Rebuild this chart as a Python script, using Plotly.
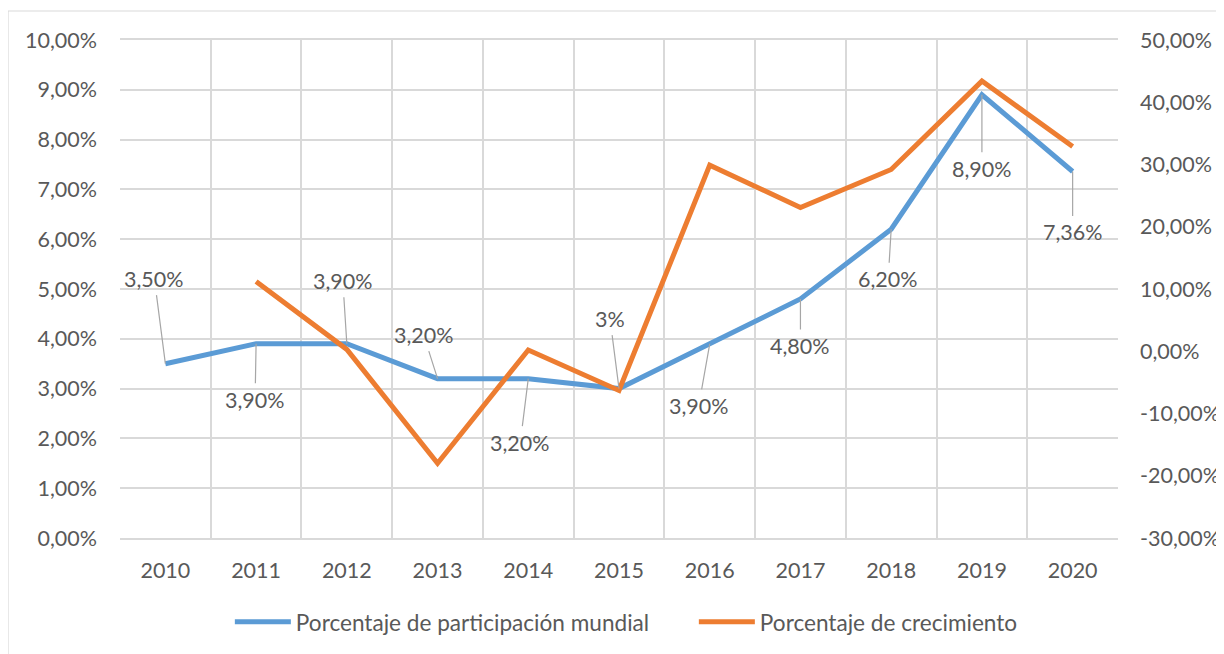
import plotly.graph_objects as go

years = ["2010", "2011", "2012", "2013", "2014", "2015", "2016", "2017", "2018", "2019", "2020"]
participacion = [3.50, 3.90, 3.90, 3.20, 3.20, 3.00, 3.90, 4.80, 6.20, 8.90, 7.36]
participacion_labels = ["3,50%", "3,90%", "3,90%", "3,20%", "3,20%", "3%", "3,90%", "4,80%", "6,20%", "8,90%", "7,36%"]
crecimiento_years = years[1:]
crecimiento = [11.2, 0.3, -18.0, 0.2, -6.3, 29.9, 23.1, 29.2, 43.4, 32.9]

left_ticks = [0, 1, 2, 3, 4, 5, 6, 7, 8, 9, 10]
left_tick_labels = ["0,00%", "1,00%", "2,00%", "3,00%", "4,00%", "5,00%", "6,00%", "7,00%", "8,00%", "9,00%", "10,00%"]
right_ticks = [-30, -20, -10, 0, 10, 20, 30, 40, 50]
right_tick_labels = ["-30,00%", "-20,00%", "-10,00%", "0,00%", "10,00%", "20,00%", "30,00%", "40,00%", "50,00%"]

# label offsets (pixels) relative to each point: styling only
label_dx = [-11, -1, -4, -14, -8, -9, -11, 0, -3, 0, 0]
label_dy = [-85, 56, -63, -44, 64, -70, 62, 47, 50, 74, 61]

BLUE = "#5B9BD5"
ORANGE = "#ED7D31"
TXT = "#595959"
GRID = "#D9D9D9"
FONT = "Lato"
FS = 21.5

fig = go.Figure()
fig.add_trace(go.Scatter(
    x=years, y=participacion, mode="lines", name="Porcentaje de participación mundial",
    line=dict(color=BLUE, width=5), yaxis="y"))
fig.add_trace(go.Scatter(
    x=crecimiento_years, y=crecimiento, mode="lines", name="Porcentaje de crecimiento",
    line=dict(color=ORANGE, width=5), yaxis="y2"))

annotations = []
for i, (v, lab, dx, dy) in enumerate(zip(participacion, participacion_labels, label_dx, label_dy)):
    annotations.append(dict(
        x=i, y=v, xref="x", yref="y", text=lab, showarrow=True,
        ax=dx, ay=dy, arrowhead=0, arrowwidth=1.2, arrowcolor="#A6A6A6",
        standoff=0, borderpad=3,
        font=dict(family=FONT, size=FS, color=TXT)))

W, H = 1216, 646
fig.update_layout(
    width=W, height=H,
    margin=dict(l=112, r=106, t=32, b=116, autoexpand=False),
    paper_bgcolor="white", plot_bgcolor="white",
    font=dict(family=FONT, size=FS, color=TXT),
    showlegend=True,
    legend=dict(orientation="h", x=0.575, xanchor="center", y=-0.169, yanchor="middle",
                font=dict(family=FONT, size=22.6, color=TXT), itemwidth=56,
                entrywidth=393, entrywidthmode="pixels"),
    xaxis=dict(type="category", tickson="boundaries", ticks="", showgrid=True,
               gridcolor=GRID, gridwidth=1.5, showline=True, linecolor=GRID, linewidth=1.5,
               mirror=True, tickfont=dict(family=FONT, size=FS, color=TXT),
               ticklabelstandoff=12, range=[-0.5, 10.5], zeroline=False, automargin=False),
    yaxis=dict(range=[0, 10], tickvals=left_ticks, ticktext=left_tick_labels,
               showgrid=True, gridcolor=GRID, gridwidth=1.5, zeroline=False,
               ticks="", ticklabelstandoff=22, automargin=False,
               tickfont=dict(family=FONT, size=FS, color=TXT)),
    yaxis2=dict(range=[-30, 50], tickvals=right_ticks, ticktext=right_tick_labels,
                overlaying="y", side="right", showgrid=False, zeroline=False,
                ticks="", ticklabelstandoff=21, automargin=False,
                tickfont=dict(family=FONT, size=FS, color=TXT)),
    annotations=annotations,
    shapes=[dict(type="rect", xref="paper", yref="paper",
                 x0=(0 - 112) / 998, x1=1.3, y0=-0.5, y1=1 + (32 - 3) / 498,
                 line=dict(color="#D9D9D9", width=1.2), fillcolor="rgba(0,0,0,0)", layer="below")],
)

fig.write_html("out.html")
